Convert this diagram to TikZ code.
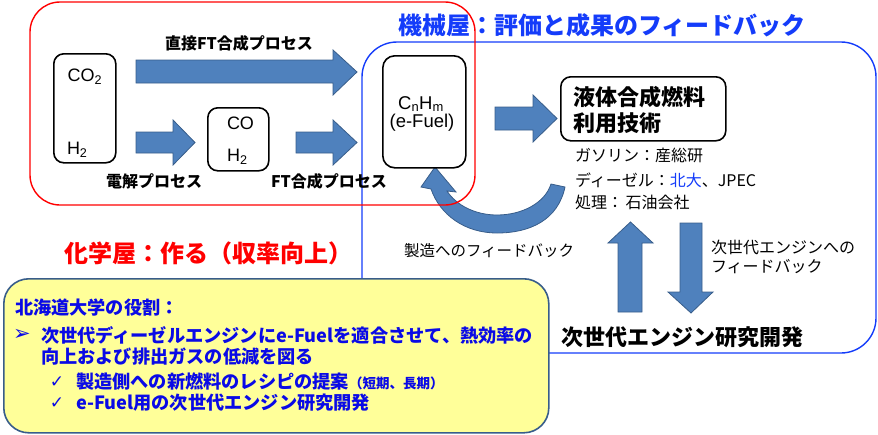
\documentclass[tikz,border=0pt]{standalone}
\usepackage{fontspec}
\setmainfont{Liberation Sans}
\newfontfamily\jp{Noto Sans CJK JP}
\newfontfamily\dv{DejaVu Sans}
\definecolor{arrowfill}{RGB}{79,129,189}
\definecolor{arrowline}{RGB}{56,93,138}
\definecolor{chemred}{RGB}{255,0,0}
\definecolor{mechblue}{RGB}{20,60,250}
\definecolor{roleblue}{RGB}{10,10,230}
\definecolor{notefill}{RGB}{255,255,153}
\definecolor{noteline}{RGB}{56,93,138}
\tikzset{
  barrow/.style={fill=arrowfill, draw=arrowline, line width=0.8pt},
  rbox/.style={draw=black, fill=white, line width=1.6pt, rounded corners=10pt, inner sep=0pt},
  txt/.style={inner sep=0pt, outer sep=0pt},
  jplbl/.style={txt, font=\jp\bfseries\fontsize{16}{18}\selectfont},
  jpsmall/.style={txt, font=\jp\fontsize{16}{18}\selectfont},
  chem/.style={txt, font=\fontsize{18}{20}\selectfont},
  roletxt/.style={txt, anchor=west, text=roleblue, font=\jp\bfseries\fontsize{18.2}{20}\selectfont},
  bulletmark/.style={txt, text=roleblue, font=\dv\fontsize{21}{22}\selectfont},
}
\begin{document}
\begin{tikzpicture}[x=1pt,y=-1pt]
\useasboundingbox (0,0) rectangle (878,434);
% blue (mechanical) frame
\draw[mechblue, line width=1.4pt, rounded corners=35pt] (362,42) rectangle (876,353);
% block arrows
\draw[barrow] (136,60) -- (333,60) -- (333,50) -- (357,72) -- (333,95) -- (333,83) -- (136,83) -- cycle;
\draw[barrow] (136,132) -- (173,132) -- (173,120) -- (195,142.5) -- (173,165) -- (173,153) -- (136,153) -- cycle;
\draw[barrow] (296,132) -- (333,132) -- (333,120) -- (357,142.5) -- (333,165) -- (333,153) -- (296,153) -- cycle;
\draw[barrow] (495,107) -- (533,107) -- (533,95) -- (557,118.5) -- (533,142) -- (533,130) -- (495,130) -- cycle;
\draw[barrow] (618,312) -- (618,243) -- (608,243) -- (630.5,222) -- (653,243) -- (642,243) -- (642,312) -- cycle;
\draw[barrow] (680,223) -- (702,223) -- (702,292) -- (713,292) -- (691,313) -- (668,292) -- (680,292) -- cycle;
% curved feedback arrow
\draw[barrow] (565,187) .. controls (558,220) and (530,233) .. (497,233)
  .. controls (465,233) and (440,215) .. (431,189)
  -- (421,187) -- (435,167) -- (456,192) -- (447,191)
  .. controls (456,205) and (475,215) .. (497,215)
  .. controls (522,215) and (545,203) .. (551,184) -- cycle;
% red (chemical) frame
\draw[chemred, line width=1.4pt, rounded corners=30pt] (30,2) rectangle (475,205);
% boxes
\node[rbox, anchor=north west, minimum width=62pt, minimum height=109pt] (co2box) at (53,53) {};
\node[rbox, anchor=north west, minimum width=61pt, minimum height=63pt] (cobox) at (207,107) {};
\node[rbox, anchor=north west, minimum width=83pt, minimum height=112pt, rounded corners=12pt] (fuelbox) at (382,55) {};
\node[rbox, anchor=north west, minimum width=165pt, minimum height=64pt] (liqbox) at (560,76) {};
% box contents
\node[chem] (co2) at (85,77) {CO\textsubscript{2}};
\node[chem, anchor=west] (h2a) at (67,150) {H\textsubscript{2}};
\node[chem, anchor=west] (co) at (227,123) {CO};
\node[chem, anchor=west] (h2b) at (227,157) {H\textsubscript{2}};
\node[txt, font=\fontsize{18.5}{20}\selectfont] (cnhm) at (421,104) {C\textsubscript{n}H\textsubscript{m}};
\node[txt, font=\fontsize{18.5}{20}\selectfont] (efuel) at (422,123) {(e-Fuel)};
\node[txt, anchor=west, font=\jp\bfseries\fontsize{22}{24}\selectfont] (liq1) at (573,97) {液体合成燃料};
\node[txt, anchor=west, font=\jp\bfseries\fontsize{22}{24}\selectfont] (liq2) at (573,123) {利用技術};
% process labels
\node[jplbl] (direct) at (239,43) {直接FT合成プロセス};
\node[jplbl] (elec) at (154,181) {電解プロセス};
\node[jplbl] (ftsyn) at (329,181) {FT合成プロセス};
% user notes
\node[jpsmall, anchor=west] (gas) at (575,155) {ガソリン：産総研};
\node[jpsmall, anchor=west] (dies) at (575,180) {ディーゼル：{\color{mechblue}北大}、JPEC};
\node[jpsmall, anchor=west] (proc) at (575,202) {処理：\,石油会社};
\node[jpsmall, anchor=west, font=\jp\fontsize{15.5}{17}\selectfont] (fbmake) at (404,251) {製造へのフィードバック};
\node[jpsmall, anchor=west] (fbeng1) at (711,247) {次世代エンジンへの};
\node[jpsmall, anchor=west] (fbeng2) at (711,267) {フィードバック};
\node[txt, anchor=west, font=\jp\bfseries\fontsize{22}{24}\selectfont] (engrd) at (561,337) {次世代エンジン研究開発};
% titles
\node[txt, anchor=west, text=mechblue, font=\jp\bfseries\fontsize{24}{26}\selectfont] (mechtitle) at (398,25) {機械屋：評価と成果のフィードバック};
\node[txt, anchor=west, text=chemred, font=\jp\bfseries\fontsize{24}{26}\selectfont] (chemtitle) at (64,253) {化学屋：作る（収率向上）};
% role box
\node[draw=noteline, fill=notefill, line width=1.6pt, rounded corners=25pt, anchor=north west, minimum width=545pt, minimum height=154pt] (rolebox) at (3,278) {};
\node[roletxt] (r0) at (15,308) {北海道大学の役割：};
\node[bulletmark] (b1) at (22,335) {➢};
\node[roletxt] (r1) at (41,335) {次世代ディーゼルエンジンにe-Fuelを適合させて、熱効率の};
\node[roletxt] (r2) at (41,357) {向上および排出ガスの低減を図る};
\node[bulletmark, font=\dv\fontsize{17}{18}\selectfont] (c1) at (57,382) {✓};
\node[roletxt] (r3) at (76,382) {製造側への新燃料のレシピの提案{\fontsize{13.5}{15}\selectfont（短期、長期）}};
\node[bulletmark, font=\dv\fontsize{17}{18}\selectfont] (c2) at (57,403) {✓};
\node[roletxt] (r4) at (76,403) {e-Fuel用の次世代エンジン研究開発};
\end{tikzpicture}
\end{document}
